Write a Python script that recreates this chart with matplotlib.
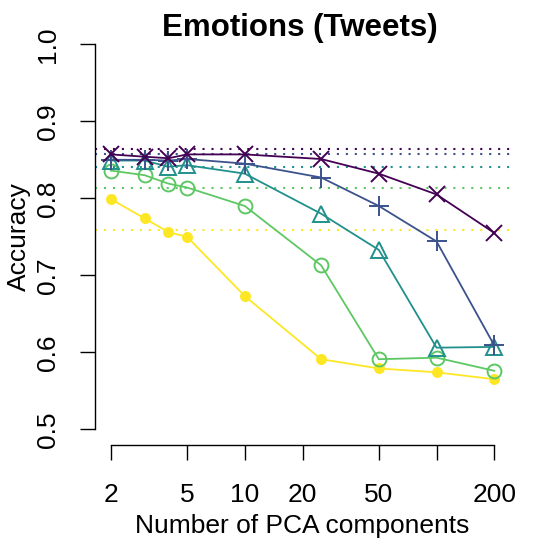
import matplotlib
matplotlib.use("Agg")
import matplotlib.pyplot as plt

plt.rcParams['font.family'] = ['Liberation Sans', 'DejaVu Sans']

components = [2, 3, 4, 5, 10, 25, 50, 100, 200]
acc_purple = [0.857, 0.854, 0.852, 0.857, 0.857, 0.851, 0.832, 0.805, 0.755]
acc_blue = [0.850, 0.850, 0.849, 0.851, 0.845, 0.827, 0.790, 0.744, 0.609]
acc_teal = [0.849, 0.849, 0.841, 0.843, 0.832, 0.780, 0.733, 0.606, 0.607]
acc_green = [0.836, 0.830, 0.819, 0.814, 0.790, 0.713, 0.591, 0.593, 0.576]
acc_yellow = [0.799, 0.774, 0.756, 0.750, 0.673, 0.591, 0.579, 0.574, 0.565]
baselines = [0.864, 0.857, 0.840, 0.814, 0.759]

colors = ['#440154', '#3B528B', '#21908C', '#5DC863', '#FDE725']
xticks = [2, 5, 10, 20, 50, 100, 200]
xticklabels = ['2', '5', '10', '20', '50', '', '200']
yticks = [0.5, 0.6, 0.7, 0.8, 0.9, 1.0]
yticklabels = ['0.5', '0.6', '0.7', '0.8', '0.9', '1.0']

fig = plt.figure(figsize=(5.4, 5.4), dpi=100)
ax = fig.add_axes([0.1767, 0.1765, 0.767, 0.770])

xmin = 10 ** (0.30103 - 0.08)
xmax = 10 ** (2.30103 + 0.08)
ax.set_xscale('log')
ax.set_xlim(xmin, xmax)
ax.set_ylim(0.48, 1.02)

for b, c in zip(baselines, colors):
    ax.plot([xmin, xmax], [b, b], color=c, lw=1.5, ls=(0, (1, 3.3)), zorder=1)

series = [
    (acc_yellow, colors[4], 'o', 6.5, True),
    (acc_green, colors[3], 'o', 10, False),
    (acc_teal, colors[2], '^', 12, False),
    (acc_blue, colors[1], '+', 14, False),
    (acc_purple, colors[0], 'x', 11, False),
]
for vals, c, m, ms, filled in series:
    ax.plot(components, vals, color=c, lw=1.3, marker=m, ms=ms,
            mfc=c if filled else 'none', mec=c, mew=1.4, zorder=3)

for s in ['top', 'right']:
    ax.spines[s].set_visible(False)
ax.spines['left'].set_bounds(0.5, 1.0)
ax.spines['bottom'].set_bounds(2, 200)
for s in ['left', 'bottom']:
    ax.spines[s].set_linewidth(1.0)

ax.xaxis.set_minor_locator(matplotlib.ticker.NullLocator())
ax.set_xticks(xticks)
ax.set_xticklabels(xticklabels)
ax.set_yticks(yticks)
ax.set_yticklabels(yticklabels, rotation=90, va='center')
ax.tick_params(axis='x', direction='out', length=10.8, width=1.0, labelsize=19, pad=17)
ax.tick_params(axis='y', direction='out', length=10.8, width=1.0, labelsize=19, pad=15)

fig.text(0.560, 7 / 540, 'Number of PCA components', fontsize=19,
         ha='center', va='baseline')
fig.text(19 / 540, 1 - 237 / 540, 'Accuracy', fontsize=19, rotation=90,
         ha='center', va='center')
fig.text(0.556, 1 - 36 / 540, 'Emotions (Tweets)', fontsize=22.5,
         fontweight='bold', ha='center', va='baseline')

fig.savefig('out.png', dpi=100)
